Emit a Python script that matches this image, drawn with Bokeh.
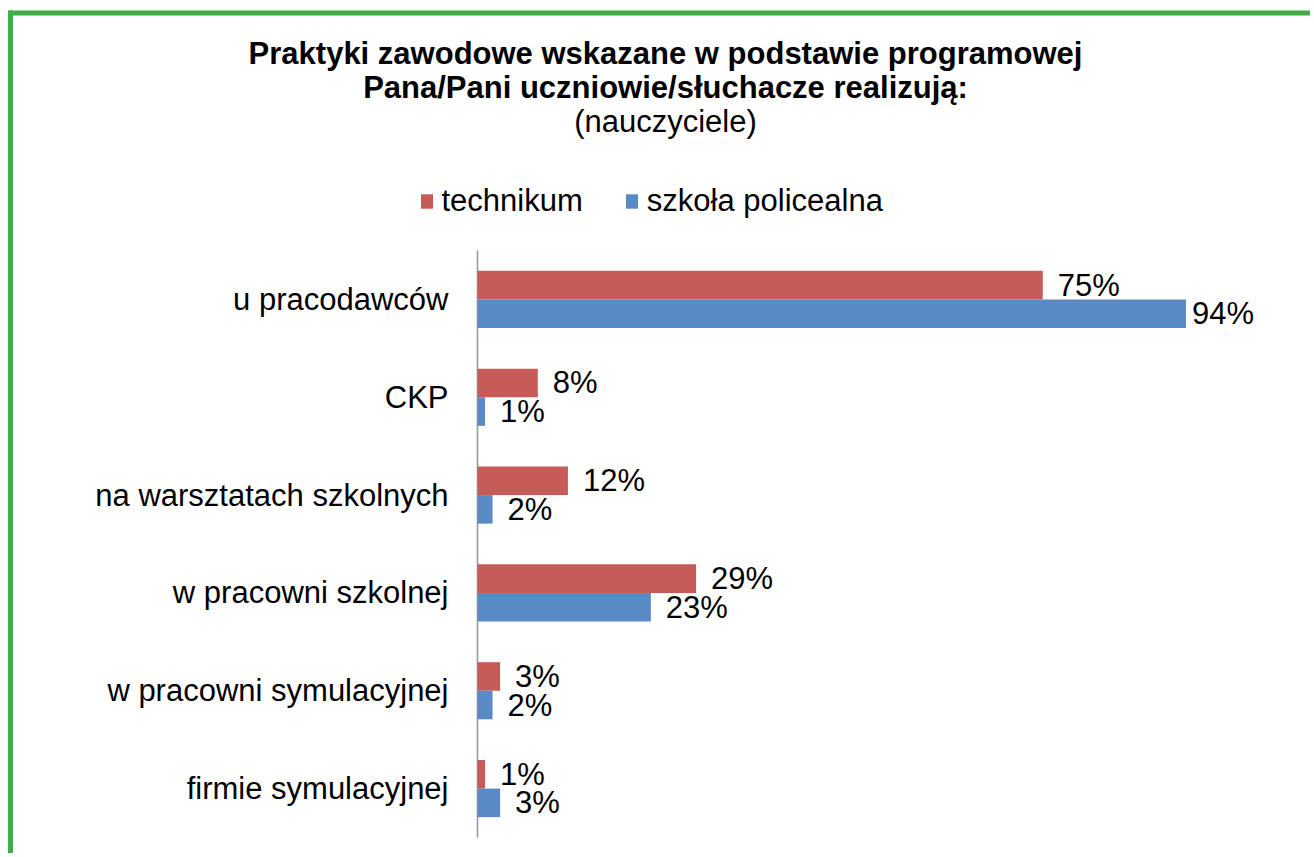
from bokeh.plotting import figure
from bokeh.models import (ColumnDataSource, Range1d, Label, Legend,
                          LegendItem, BoxAnnotation)
from bokeh.transform import dodge
from bokeh.core.properties import value
from bokeh.embed import file_html
from bokeh.resources import INLINE

# ---------------- data ----------------
categories = ["u pracodawców", "CKP", "na warsztatach szkolnych",
              "w pracowni szkolnej", "w pracowni symulacyjnej",
              "firmie symulacyjnej"]
technikum = [75, 8, 12, 29, 3, 1]
policealna = [94, 1, 2, 23, 2, 3]
series_names = ["technikum", "szkoła policealna"]
title_lines = ["Praktyki zawodowe wskazane w podstawie programowej",
               "Pana/Pani uczniowie/słuchacze realizują:",
               "(nauczyciele)"]

# ---------------- style / layout ----------------
RED = "#C65B58"
BLUE = "#5A8AC6"
GREEN = "#3FAE49"
AXIS_GRAY = "#9A9A9A"
FONT = "Liberation Sans"
FS = "31px"

W, H = 1310, 853
AXIS_PX = 477        # pixel column of the value axis (0 %)
PX_PER_PCT = 7.537   # pixels per percentage point
TOP_PX = 250         # top of the category band
CAT_PX = 97.83       # pixels per category

n = len(categories)
x_start = -AXIS_PX / PX_PER_PCT
x_end = (W - AXIS_PX) / PX_PER_PCT
y_end = (n - 0.5) + TOP_PX / CAT_PX
y_start = y_end - H / CAT_PX


def px2x(px):
    return x_start + px / PX_PER_PCT


def py2y(py):
    return y_end - py / CAT_PX


p = figure(width=W, height=H,
           x_range=Range1d(x_start, x_end), y_range=Range1d(y_start, y_end),
           output_backend="svg", toolbar_location=None,
           min_border=0, min_border_left=0, min_border_right=0,
           min_border_top=0, min_border_bottom=0)
p.title.visible = False
p.xaxis.visible = False
p.yaxis.visible = False
p.xgrid.visible = False
p.ygrid.visible = False
p.outline_line_color = None
p.background_fill_color = "white"
p.border_fill_color = "white"

ypos = list(range(n))[::-1]      # first category on top
src = ColumnDataSource(dict(
    cat=categories,
    ypos=ypos,
    zero=[0] * n,
    tech=technikum,
    pol=policealna,
    tech_lbl=[f"{v}%" for v in technikum],
    pol_lbl=[f"{v}%" for v in policealna],
    tech_off=[15 for v in technikum],
    pol_off=[6 if v > 90 else 15 for v in policealna],
))

# category axis: line + labels
p.segment(x0=0, x1=0, y0=-0.5, y1=n - 0.5, line_color=AXIS_GRAY, line_width=1.6)
p.text(x="zero", y="ypos", text="cat", x_offset=-29, text_align="right",
       text_baseline="middle", text_font=value(FONT), text_font_size=value(FS),
       text_color="black", source=src)

OFF = 0.146
BH = 0.292
r1 = p.hbar(y=dodge("ypos", OFF), left=0, right="tech",
            height=BH, fill_color=RED, line_color=None, source=src)
r2 = p.hbar(y=dodge("ypos", -OFF), left=0, right="pol",
            height=BH, fill_color=BLUE, line_color=None, source=src)

p.text(x="tech", y=dodge("ypos", OFF), text="tech_lbl",
       x_offset="tech_off", text_align="left", text_baseline="middle",
       text_font=value(FONT), text_font_size=value(FS), text_color="black",
       source=src)
p.text(x="pol", y=dodge("ypos", -OFF), text="pol_lbl",
       x_offset="pol_off", text_align="left", text_baseline="middle",
       text_font=value(FONT), text_font_size=value(FS), text_color="black",
       source=src)

legend = Legend(items=[LegendItem(label=series_names[0], renderers=[r1]),
                       LegendItem(label=series_names[1], renderers=[r2])],
                orientation="horizontal", location=(418.5, H - 219),
                glyph_width=15, glyph_height=18, label_standoff=8,
                spacing=41, padding=0, margin=0,
                border_line_color=None, background_fill_alpha=0,
                label_text_font=FONT, label_text_font_size=FS,
                label_text_baseline="middle", label_text_color="black")
p.add_layout(legend)

for txt, base_px, style in zip(title_lines, [53, 87, 121], ["bold", "bold", "normal"]):
    p.add_layout(Label(x=px2x(665), y=py2y(base_px), text=txt,
                       text_align="center", text_baseline="alphabetic",
                       text_font=FONT, text_font_size=FS, text_font_style=style,
                       text_color="black"))

# green frame (left and top edges visible)
p.add_layout(BoxAnnotation(left=px2x(7.5), right=px2x(12.5),
                           top=py2y(10), bottom=py2y(H + 50),
                           fill_color=GREEN, fill_alpha=1.0, line_color=None))
p.add_layout(BoxAnnotation(left=px2x(7.5), right=px2x(W + 50),
                           top=py2y(10), bottom=py2y(15),
                           fill_color=GREEN, fill_alpha=1.0, line_color=None))

open("out.html", "w").write(file_html(p, INLINE))
